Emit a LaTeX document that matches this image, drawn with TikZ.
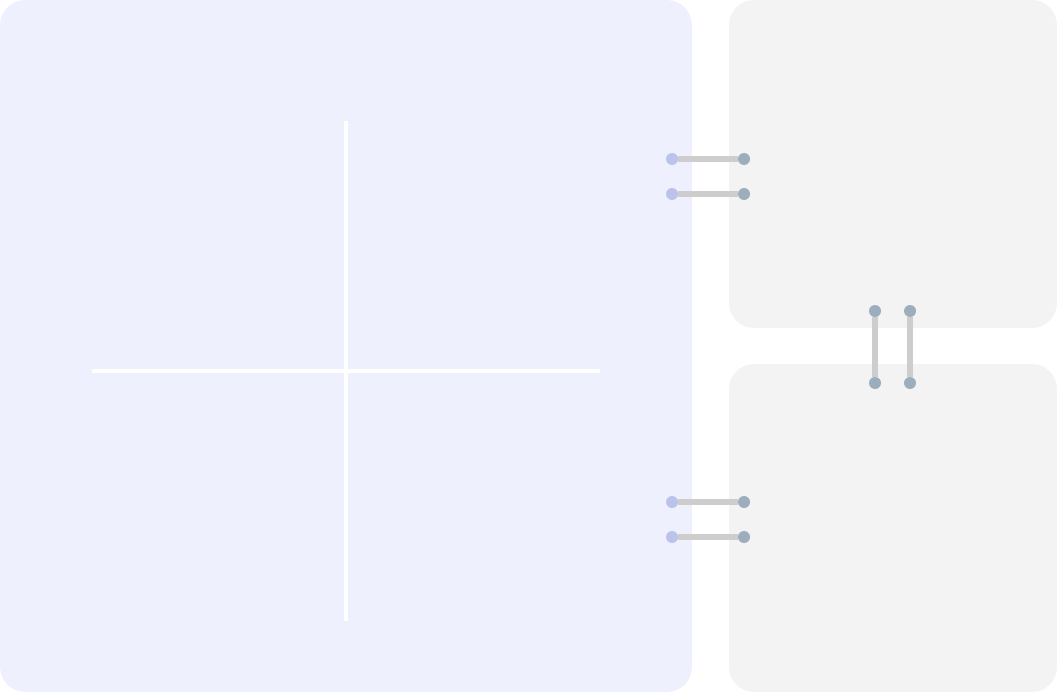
\documentclass[tikz,border=0pt]{standalone}
\usepackage{xcolor}
\usepackage{tikz}
\usetikzlibrary{positioning}
\definecolor{panelblue}{HTML}{EEF0FD}
\definecolor{panelgray}{HTML}{F3F3F3}
\definecolor{dotblue}{HTML}{BCC3EA}
\definecolor{dotgray}{HTML}{9CAEBE}
\definecolor{linkgray}{HTML}{CDCDCD}

\begin{document}
\begin{tikzpicture}[x=0.02cm, y=-0.02cm,
	panel/.style={rounded corners=0.5cm, draw=none, inner sep=0pt},
	dot/.style={circle, inner sep=0pt, minimum size=0.24cm},
	link/.style={line width=3pt, linkgray},
	axisline/.style={white, line width=2pt}]
	% Fix the picture size
	\useasboundingbox (0,0) rectangle (1057,692);
	
	% Draw the three panels
	\node[panel, fill=panelblue, minimum width=13.84cm, minimum height=13.84cm] (main) at (346,346) {};
	\node[panel, fill=panelgray, minimum width=6.56cm, minimum height=6.56cm] (top) at (893,164) {};
	\node[panel, fill=panelgray, minimum width=6.56cm, minimum height=6.56cm] (bottom) at (893,528) {};
	
	% Cross inside the main panel
	\coordinate (vtop) at (346,121);
	\coordinate (vbot) at (346,621);
	\coordinate (hleft) at (92,371);
	\coordinate (hright) at (600,371);
	\draw[axisline] (vtop) -- (vbot);
	\draw[axisline] (hleft) -- (hright);
	
	% Horizontal links from the main panel to the right panels
	\foreach \y/\n in {159/a, 194/b, 502/c, 537/d} {
		\node[dot, fill=dotblue] (l\n) at (672,\y) {};
		\node[dot, fill=dotgray] (r\n) at (744,\y) {};
		\draw[link] (l\n) -- (r\n);
	}
	
	% Vertical links between the right panels
	\foreach \x/\n in {875/a, 910/b} {
		\node[dot, fill=dotgray] (u\n) at (\x,311) {};
		\node[dot, fill=dotgray] (w\n) at (\x,383) {};
		\draw[link] (u\n) -- (w\n);
	}
\end{tikzpicture}
\end{document}
